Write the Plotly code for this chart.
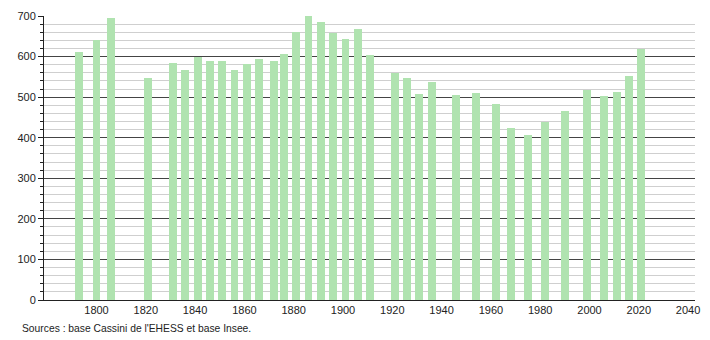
import plotly.graph_objects as go

years = [1793, 1800, 1806, 1821, 1831, 1836, 1841, 1846, 1851, 1856, 1861, 1866,
         1872, 1876, 1881, 1886, 1891, 1896, 1901, 1906, 1911, 1921, 1926, 1931,
         1936, 1946, 1954, 1962, 1968, 1975, 1982, 1990, 1999, 2006, 2011, 2016, 2021]
population = [612, 642, 694, 548, 583, 566, 599, 588, 590, 566, 582, 595,
              590, 607, 660, 701, 685, 658, 644, 668, 605, 559, 548, 508,
              537, 506, 511, 484, 425, 406, 438, 465, 518, 503, 513, 552, 619]
x_ticks = [1800, 1820, 1840, 1860, 1880, 1900, 1920, 1940, 1960, 1980, 2000, 2020, 2040]
source_text = "Sources : base Cassini de l'EHESS et base Insee."

fig = go.Figure()
fig.add_trace(go.Bar(
    x=years, y=population, width=3.2,
    marker=dict(color="#b0e3b0", line=dict(width=0)),
    hoverinfo="x+y",
))

fig.update_layout(
    width=710, height=340,
    margin=dict(l=44, r=10, t=11, b=40),
    plot_bgcolor="white", paper_bgcolor="white",
    font=dict(family="Liberation Sans, Arial, sans-serif", size=11, color="#222"),
    showlegend=False,
    bargap=0,
    xaxis=dict(
        range=[1778.7, 2042.8],
        tickvals=x_ticks, ticktext=[str(v) for v in x_ticks],
        showgrid=False, zeroline=False,
        showline=True, linecolor="#222", linewidth=1,
        ticks="", tickfont=dict(size=11),
    ),
    yaxis=dict(
        range=[0, 700], dtick=100, tick0=0,
        showgrid=True, gridcolor="#444", gridwidth=1,
        zeroline=False,
        showline=True, linecolor="#222", linewidth=1,
        ticks="outside", ticklen=5, tickcolor="#222",
        tickfont=dict(size=11),
        minor=dict(dtick=20, showgrid=True, gridcolor="#cfcfcf", gridwidth=1,
                   ticks="outside", ticklen=3, tickcolor="#222"),
    ),
    annotations=[dict(
        text=source_text, xref="paper", yref="paper",
        x=-44/656, y=0, xanchor="left", yanchor="top",
        xshift=20, yshift=-21, showarrow=False, font=dict(size=10.3, color="#222"),
    )],
)

fig.write_html("out.html")
